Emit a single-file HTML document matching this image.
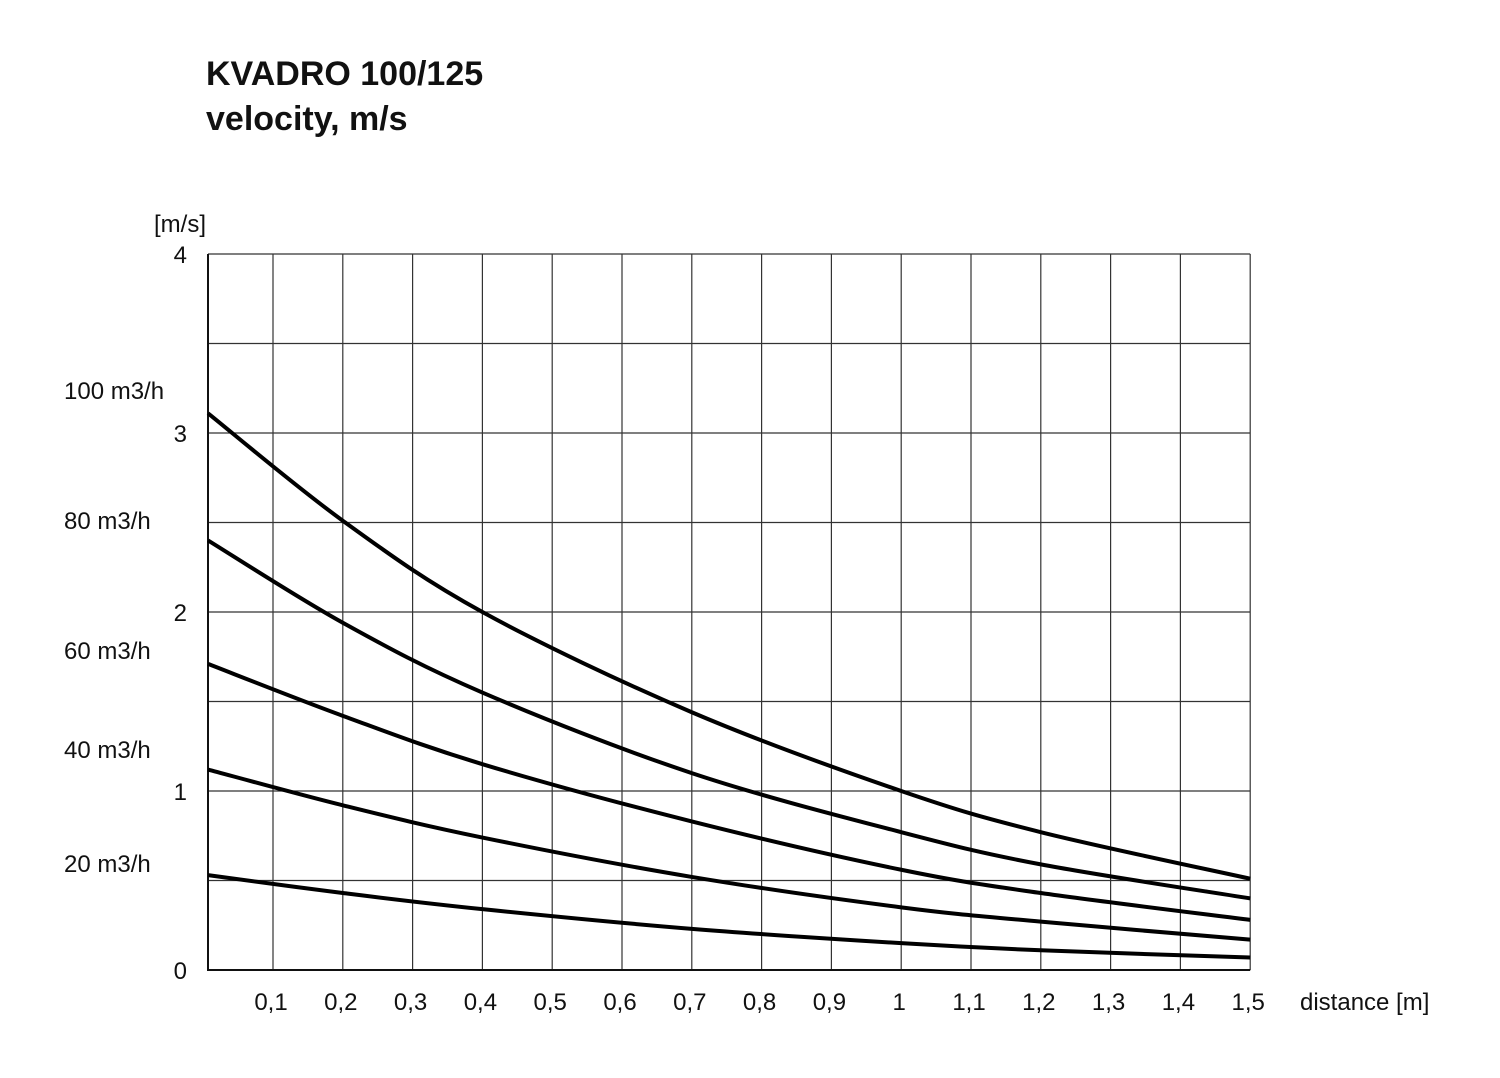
<!DOCTYPE html>
<html><head><meta charset="utf-8"><style>
body{margin:0;background:#fff;}
svg{display:block;font-family:"Liberation Sans",sans-serif;}
</style></head><body>
<svg width="1500" height="1078" viewBox="0 0 1500 1078" id="chart">
<text x="206" y="85" font-size="34" font-weight="bold" fill="#111">KVADRO 100/125</text>
<text x="206" y="130" font-size="34" font-weight="bold" fill="#111">velocity, m/s</text>
<text x="154" y="232" font-size="24" fill="#111">[m/s]</text>
<text x="1300" y="1010" font-size="24" fill="#111">distance [m]</text>
<g id="grid"></g><g id="labels"></g><g id="series"></g>
</svg>
<script>
const xTicks=[0.1,0.2,0.3,0.4,0.5,0.6,0.7,0.8,0.9,1,1.1,1.2,1.3,1.4,1.5];
const xTickLabels=["0,1","0,2","0,3","0,4","0,5","0,6","0,7","0,8","0,9","1","1,1","1,2","1,3","1,4","1,5"];
const yTicks=[0,1,2,3,4];
const yGrid=[0.5,1,1.5,2,2.5,3,3.5,4];
const seriesNames=["20 m3/h","40 m3/h","60 m3/h","80 m3/h","100 m3/h"];
const xs=[0,0.2,0.4,0.7,1.0,1.2,1.5];
const s20=[0.53,0.43,0.34,0.23,0.15,0.11,0.07];
const s40=[1.12,0.92,0.74,0.52,0.35,0.27,0.17];
const s60=[1.71,1.42,1.15,0.83,0.56,0.43,0.28];
const s80=[2.40,1.94,1.55,1.10,0.77,0.59,0.40];
const s100=[3.11,2.51,2.0,1.44,1.0,0.77,0.51];
const labelY=[872,758,659,529,399];
const NS="http://www.w3.org/2000/svg";
const X=v=>Math.max(208,273+(v-0.1)*698);
const Y=v=>970-v*179;
function mk(t,a,p){const e=document.createElementNS(NS,t);for(const k in a)e.setAttribute(k,a[k]);p.appendChild(e);return e;}
const grid=document.getElementById('grid'),lab=document.getElementById('labels'),ser=document.getElementById('series');
xTicks.forEach((v,i)=>{
 const l=mk('line',{x1:X(v),x2:X(v),y1:Y(4),y2:Y(0),stroke:'#333','stroke-width':1.2},grid);
 
 
 const t=mk('text',{x:X(v)-2,y:1010,'font-size':24,'text-anchor':'middle',fill:'#111'},lab);
 t.textContent=xTickLabels[i];
 
 
});
yGrid.forEach(v=>{
 const l=mk('line',{x1:208,x2:X(1.5),y1:Y(v),y2:Y(v),stroke:'#333','stroke-width':1.2},grid);
 
 
});
yTicks.forEach(v=>{
 const t=mk('text',{x:187,y:Y(v)+9,'font-size':24,'text-anchor':'end',fill:'#111'},lab);
 t.textContent=String(v);
 
 
});
const ax=mk('path',{d:`M208 ${Y(4)} V${Y(0)} H${X(1.5)}`,fill:'none',stroke:'#111','stroke-width':2},grid);


function path(vals){
 const p=xs.map((x,i)=>[X(x),Y(vals[i])]);
 let d=`M${p[0][0]} ${p[0][1]}`;
 for(let i=0;i<p.length-1;i++){
  const p0=p[i-1]||p[i],p1=p[i],p2=p[i+1],p3=p[i+2]||p2;
  const c1=[p1[0]+(p2[0]-p0[0])/6,p1[1]+(p2[1]-p0[1])/6],c2=[p2[0]-(p3[0]-p1[0])/6,p2[1]-(p3[1]-p1[1])/6];
  d+=` C${c1[0]} ${c1[1]} ${c2[0]} ${c2[1]} ${p2[0]} ${p2[1]}`;
 }
 return d;
}
[s20,s40,s60,s80,s100].forEach((s,i)=>{
 const c=mk('path',{d:path(s),fill:'none',stroke:'#000','stroke-width':4},ser);
 
 
 const t=mk('text',{x:64,y:labelY[i],'font-size':24,fill:'#111'},lab);
 t.textContent=seriesNames[i];
 
 
});
</script>
</body></html>
